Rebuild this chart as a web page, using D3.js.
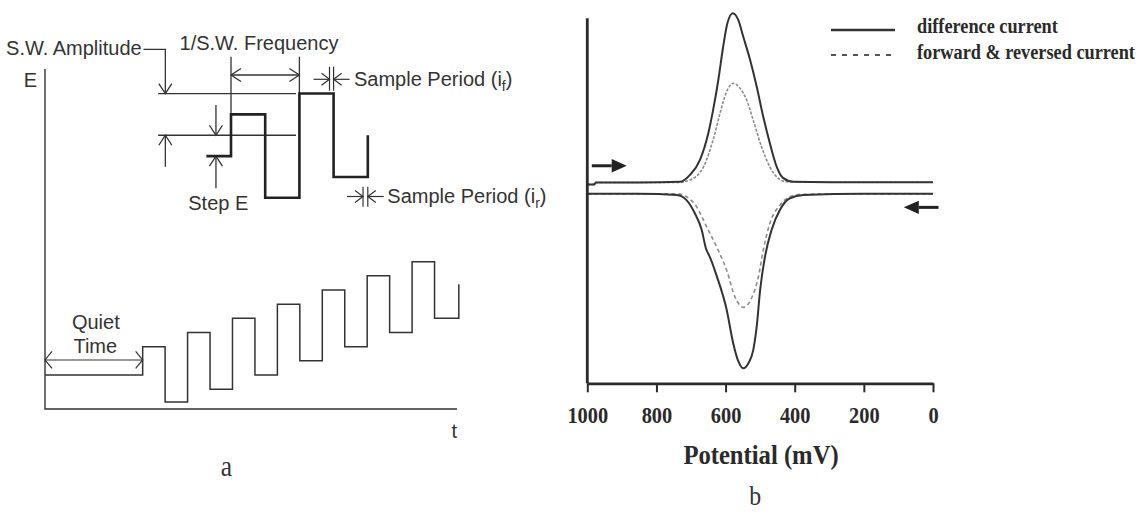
<!DOCTYPE html>
<html>
<head>
<meta charset="utf-8">
<script src="https://cdn.jsdelivr.net/npm/d3@7"></script>
<style>
  html, body { margin: 0; padding: 0; background: #ffffff; }
  svg { display: block; }
</style>
</head>
<body>
<svg id="fig" width="1142" height="512"></svg>
<script>
// ---------- Panel a: square-wave staircase applied to the electrode ----------
// time in half-periods of the square wave, potential in mV above the axis origin
const rampT = [0, 4.35, 5.35, 6.35, 7.35, 8.35, 9.35, 10.35, 11.35, 12.35, 13.35, 14.35, 15.35, 16.35, 17.35, 18.43];
const rampE = [24, 44, 5, 54, 14, 64, 24, 74, 34, 84, 44, 94, 54, 104, 64, 88];
const quietTimeEnd = 4.35;
const quietArrowE = 34.6;

// enlarged detail of two square-wave cycles (units: half-periods, step heights)
const detailT = [-0.72, 0, 1, 2, 3, 4];
const detailE = [0, 2, -2, 3, -1, 1];

// ---------- Panel b: square-wave voltammogram ----------
const potentialTicks = [1000, 800, 600, 400, 200, 0];

// forward scan (upper trace), difference current
const fwdDiffMV = [1000, 979, 976, 850, 732, 703, 674, 650, 636, 621, 607, 595, 579, 563, 549, 529, 510, 491, 472, 452, 433, 404, 300, 0];
const fwdDiffI  = [54.5, 54.5, 55.0, 55.0, 55.2, 57.1, 61.2, 68.5, 74.9, 83.1, 92.2, 98.6, 101.4, 99.5, 95.0, 88.6, 81.3, 73.0, 65.8, 59.3, 56.2, 55.2, 55.1, 55.1];
// forward scan (upper trace), forward & reversed current
const fwdFRMV = [1000, 979, 976, 850, 740, 703, 664, 636, 616, 597, 578, 558, 539, 520, 496, 472, 448, 423, 300, 0];
const fwdFRI  = [54.5, 54.5, 55.0, 55.0, 55.0, 55.7, 59.3, 66.7, 74.0, 79.9, 82.2, 80.8, 77.6, 72.1, 64.8, 59.3, 56.2, 55.2, 55.1, 55.1];
// reverse scan (lower trace), difference current
const revDiffMV = [1000, 850, 741, 713, 689, 669, 657, 645, 626, 597, 578, 563, 549, 534, 520, 510, 500, 486, 467, 443, 414, 375, 200, 0];
const revDiffI  = [51.9, 51.9, 51.6, 50.2, 46.6, 42.0, 37.0, 34.5, 29.5, 20.2, 11.0, 6.0, 4.1, 5.5, 9.1, 15.5, 25.6, 34.7, 42.0, 47.5, 50.7, 51.6, 51.9, 51.9];
// reverse scan (lower trace), forward & reversed current
const revFRMV = [1000, 850, 740, 713, 684, 655, 626, 597, 573, 549, 525, 505, 491, 472, 443, 414, 380, 0];
const revFRI  = [51.9, 51.9, 51.9, 51.1, 48.4, 42.9, 37.4, 31.0, 23.7, 20.8, 23.3, 29.2, 36.5, 43.8, 48.8, 51.1, 51.8, 51.9];

const legendLabels = ["difference current", "forward & reversed current"];

// ---------------------------------------------------------------------------
const svg = d3.select("#fig");
const ink = "#333";
const sans = "'Liberation Sans', Arial, sans-serif";
const serif = "'Liberation Serif', 'Times New Roman', serif";

const zip = (xs, ys) => xs.map((x, i) => ({ x, y: ys[i] }));

// open "V" arrowhead with its tip at (x, y)
function vHead(g, x, y, dir, len, hw, width) {
  let d;
  if (dir === "down")  d = `M${x - hw},${y - len}L${x},${y}L${x + hw},${y - len}`;
  if (dir === "up")    d = `M${x - hw},${y + len}L${x},${y}L${x + hw},${y + len}`;
  if (dir === "left")  d = `M${x + len},${y - hw}L${x},${y}L${x + len},${y + hw}`;
  if (dir === "right") d = `M${x - len},${y - hw}L${x},${y}L${x - len},${y + hw}`;
  g.append("path").attr("d", d).attr("fill", "none")
    .attr("stroke", ink).attr("stroke-width", width || 1.3);
}
function seg(g, x1, y1, x2, y2, w) {
  g.append("line").attr("x1", x1).attr("y1", y1).attr("x2", x2).attr("y2", y2)
    .attr("stroke", ink).attr("stroke-width", w || 1.3);
}
function sansText(g, x, y, str, anchor, size) {
  return g.append("text").attr("x", x).attr("y", y)
    .attr("font-family", sans).attr("font-size", size || 20)
    .attr("fill", ink).attr("text-anchor", anchor || "start").text(str);
}

// ================= Panel a =================
const pa = svg.append("g");
const tX = d3.scaleLinear().domain([0, 18.35]).range([45, 457]);
const eY = d3.scaleLinear().domain([0, 240]).range([409, 69]);

// axes
pa.append("path")
  .attr("d", `M${tX(0)},${eY(240)}V${eY(0)}H${tX(18.35)}`)
  .attr("fill", "none").attr("stroke", ink).attr("stroke-width", 1.4);

// staircase waveform
pa.append("path")
  .datum(zip(rampT, rampE))
  .attr("d", d3.line().x(d => tX(d.x)).y(d => eY(d.y)).curve(d3.curveStepAfter))
  .attr("fill", "none").attr("stroke", ink).attr("stroke-width", 1.5);

// quiet time span
const qy = eY(quietArrowE);
seg(pa, tX(0), qy, tX(quietTimeEnd), qy, 1.2);
vHead(pa, tX(0), qy, "left", 7, 8.5, 1.2);
vHead(pa, tX(quietTimeEnd), qy, "right", 7, 8.5, 1.2);
sansText(pa, 95.8, 329.3, "Quiet", "middle");
sansText(pa, 95.3, 353.3, "Time", "middle");

sansText(pa, 30.5, 86.7, "E", "middle");
sansText(pa, 454.3, 438, "t", "middle");

// ---- enlarged cycles ----
const dX = d3.scaleLinear().domain([0, 4]).range([231, 367.8]);
const dY = d3.scaleLinear().domain([0, 3]).range([156.1, 93.55]);

// reference levels
seg(pa, dX(-2.13), dY(3), dX(1.9), dY(3), 1.3);
seg(pa, dX(-2.13), dY(1), dX(1.9), dY(1), 1.3);

// S.W. amplitude
sansText(pa, 141.7, 55, "S.W. Amplitude", "end");
const ampX = dX(-1.92);
pa.append("path").attr("d", `M143.5,49.3H${ampX}V${dY(3)}`)
  .attr("fill", "none").attr("stroke", ink).attr("stroke-width", 1.3);
vHead(pa, ampX, dY(3), "down", 10, 6.5);
seg(pa, ampX, 166.7, ampX, dY(1));
vHead(pa, ampX, dY(1), "up", 10, 6.5);

// step E
const stepX = dX(-0.44);
seg(pa, stepX, 105, stepX, dY(1));
vHead(pa, stepX, dY(1), "down", 10, 6.5);
seg(pa, stepX, 188.3, stepX, dY(0));
vHead(pa, stepX, dY(0), "up", 10, 6.5);
sansText(pa, 218.3, 210, "Step E", "middle");

// 1/S.W. frequency
seg(pa, dX(0), 56.7, dX(0), dY(2));
seg(pa, dX(2), 56.7, dX(2), dY(3));
seg(pa, dX(0), 75, dX(2), 75);
vHead(pa, dX(0), 75, "left", 10, 6.5);
vHead(pa, dX(2), 75, "right", 10, 6.5);
sansText(pa, 259, 50, "1/S.W. Frequency", "middle");

// detail waveform (heavier line)
pa.append("path")
  .datum(zip(detailT, detailE))
  .attr("d", d3.line().x(d => dX(d.x)).y(d => dY(d.y)).curve(d3.curveStepAfter))
  .attr("fill", "none").attr("stroke", "#222").attr("stroke-width", 2.6);

// sample period markers
function samplePeriod(t0, t1, yMid, yTop, yBot, tx, label, sub) {
  const x0 = dX(t0), x1 = dX(t1);
  seg(pa, x0, yTop, x0, yBot, 1.2);
  seg(pa, x1, yTop, x1, yBot, 1.2);
  seg(pa, x0 - 16, yMid, x0, yMid, 1.2);
  vHead(pa, x0, yMid, "right", 8, 6, 1.2);
  seg(pa, x1, yMid, x1 + 16, yMid, 1.2);
  vHead(pa, x1, yMid, "left", 8, 6, 1.2);
  const t = sansText(pa, tx, yMid + 6.8, label);
  t.append("tspan").attr("dy", 5).attr("font-size", 14).text(sub);
  t.append("tspan").attr("dy", -5).text(")");
}
samplePeriod(2.88, 3.0, 79.3, 66.7, 90.7, 354, "Sample Period (i", "f");
samplePeriod(3.86, 4.0, 196.5, 186.7, 206.7, 387.3, "Sample Period (i", "r");

pa.append("text").attr("transform", "translate(226.4,476) scale(0.88,1)")
  .attr("font-family", serif).attr("font-size", 29).attr("fill", ink)
  .attr("text-anchor", "middle").text("a");

// ================= Panel b =================
const pb = svg.append("g");
const pX = d3.scaleLinear().domain([1000, 0]).range([587.3, 933]);
const iY = d3.scaleLinear().domain([0, 100]).range([383.3, 18.3]);
const curve = d3.line().x(d => pX(d.x)).y(d => iY(d.y)).curve(d3.curveMonotoneX);

// forward & reversed current (dashed, grey) under the difference current
pb.append("path").datum(zip(fwdFRMV, fwdFRI)).attr("d", curve)
  .attr("fill", "none").attr("stroke", "#8c8c8c").attr("stroke-width", 1.6)
  .attr("stroke-dasharray", "3,1.5");
pb.append("path").datum(zip(revFRMV, revFRI)).attr("d", curve)
  .attr("fill", "none").attr("stroke", "#8c8c8c").attr("stroke-width", 1.6)
  .attr("stroke-dasharray", "4,3");
pb.append("path").datum(zip(fwdDiffMV, fwdDiffI)).attr("d", curve)
  .attr("fill", "none").attr("stroke", "#333").attr("stroke-width", 2);
pb.append("path").datum(zip(revDiffMV, revDiffI)).attr("d", curve)
  .attr("fill", "none").attr("stroke", "#333").attr("stroke-width", 2);

// axes
pb.append("line")
  .attr("x1", pX(1000)).attr("x2", pX(1000)).attr("y1", iY(100)).attr("y2", iY(0))
  .attr("stroke", "#2a2a2a").attr("stroke-width", 2.8);
const xAxis = pb.append("g")
  .attr("transform", `translate(0,${iY(0)})`)
  .call(d3.axisBottom(pX).tickValues(potentialTicks).tickSize(9).tickSizeOuter(0).tickFormat(d3.format("d")));
xAxis.select(".domain").attr("stroke", "#2a2a2a").attr("stroke-width", 2.8);
xAxis.selectAll(".tick line").attr("stroke", "#2a2a2a").attr("stroke-width", 2);
xAxis.selectAll(".tick text")
  .attr("y", 40).attr("dy", 0)
  .attr("transform", "scale(0.85,1)")
  .attr("font-family", serif).attr("font-weight", "bold").attr("font-size", 24)
  .attr("fill", "#2a2a2a");

pb.append("text").attr("transform", "translate(761,464) scale(0.88,1)")
  .attr("font-family", serif).attr("font-weight", "bold").attr("font-size", 28)
  .attr("fill", "#2a2a2a").attr("text-anchor", "middle").text("Potential (mV)");

pb.append("text").attr("transform", "translate(755.3,505) scale(0.88,1)")
  .attr("font-family", serif).attr("font-size", 27).attr("fill", ink)
  .attr("text-anchor", "middle").text("b");

// scan direction arrows
function fillArrow(xTail, xTip, y) {
  const dir = Math.sign(xTip - xTail);
  const headBase = xTip - dir * 15;
  pb.append("line").attr("x1", xTail).attr("x2", headBase).attr("y1", y).attr("y2", y)
    .attr("stroke", "#222").attr("stroke-width", 3);
  pb.append("path").attr("d", `M${xTip},${y}L${headBase},${y - 6.7}L${headBase},${y + 6.7}Z`)
    .attr("fill", "#222");
}
fillArrow(pX(987), pX(886), iY(59.6));
fillArrow(pX(-16), pX(84.5), iY(48.2));

// legend
const lg = pb.append("g");
lg.append("line").attr("x1", 831).attr("x2", 895).attr("y1", 30).attr("y2", 30)
  .attr("stroke", "#333").attr("stroke-width", 2.6);
lg.append("line").attr("x1", 831).attr("x2", 895).attr("y1", 55).attr("y2", 55)
  .attr("stroke", "#555").attr("stroke-width", 2).attr("stroke-dasharray", "5,6");
lg.selectAll("text.lab").data(legendLabels).join("text").attr("class", "lab")
  .attr("transform", (d, i) => `translate(917,${[33, 59][i]}) scale(0.85,1)`)
  .attr("font-family", serif).attr("font-weight", "bold").attr("font-size", 21.5)
  .attr("fill", "#2a2a2a").text(d => d);
</script>
</body>
</html>
